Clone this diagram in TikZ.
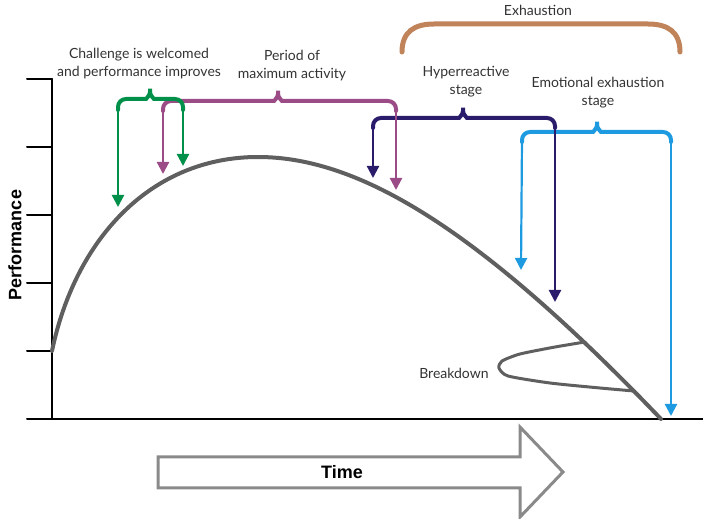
\documentclass[tikz,border=0pt]{standalone}
\usepackage{fontspec}
\setmainfont{Lato}
\newfontfamily\headfont{Liberation Sans}
\usepackage{tikz}
\usetikzlibrary{arrows.meta}
\definecolor{stgreen}{HTML}{00904A}
\definecolor{stpurple}{HTML}{9B4C86}
\definecolor{stnavy}{HTML}{2B1B6B}
\definecolor{stblue}{HTML}{1E9BE0}
\definecolor{stbrown}{HTML}{C0835A}
\definecolor{curvegray}{HTML}{5F5F5F}
\definecolor{arrowgray}{HTML}{8A8A8A}
\definecolor{textgray}{HTML}{333333}

\begin{document}
\begin{tikzpicture}[x=0.5pt, y=-0.5pt, >={Triangle[width=6pt,length=6pt]},
        line cap=round]
      \tikzstyle{word} = [font=\fontsize{7}{9}\selectfont, text=textgray, align=center, inner sep=0pt]
      \tikzstyle{axis} = [font=\headfont\bfseries\fontsize{9}{10}\selectfont, text=black, inner sep=0pt]
      \tikzstyle{leg} = [line width=1.1pt, ->]
      \tikzstyle{brace} = [line width=2pt, rounded corners=4pt]
      \tikzstyle{curve} = [curvegray, line width=2pt, line join=round]
      \useasboundingbox (0,0) rectangle (703,519);

      % axes
      \draw[line width=1pt] (52,79) -- (52,419);
      \draw[line width=1pt] (27,419) -- (703,419);
      \foreach \y in {79,147,215,283,351}
        \draw[line width=1pt] (27,\y) -- (52,\y);
      \node (perf) [axis, rotate=90] at (15,245) {Performance};

      % performance curve and breakdown loop
      \draw[curve] (52,351) .. controls (75,240) and (150,157) .. (258,157)
        .. controls (360,157) and (480,230) .. (661,419);
      \draw[curve, line width=1.5pt] plot[smooth, tension=0.4] coordinates {(585,342) (555,347)
        (520,354) (502,361) (499,368) (508,376) (550,383) (600,388) (634,391)};
      \node (breakdown) [word, anchor=east] at (489,373) {Breakdown};

      % time arrow
      \draw[arrowgray, line width=1.5pt, fill=white, line join=miter]
        (158,457) -- (520,457) -- (520,427) -- (563,472) -- (520,517) -- (520,488) -- (158,488) -- cycle;
      \node (time) [axis] at (342,472) {Time};

      % emotional exhaustion stage
      \coordinate (blueL) at (521,270);
      \coordinate (blueR) at (671,416);
      \draw[stblue, brace] (522,142) -- (522,132) -- (585,132) .. controls (593,132) and (597,128) .. (597,117)
        .. controls (597,128) and (601,132) .. (609,132) -- (671,132) -- (671,142);
      \draw[stblue, leg] (522,140) -- (blueL);
      \draw[stblue, leg] (671,140) -- (blueR);
      \node (emotional) [word] at (598,93) {Emotional exhaustion\\stage};

      % hyperreactive stage
      \coordinate (navyL) at (373,178);
      \coordinate (navyR) at (555,302);
      \draw[stnavy, brace] (373,128) -- (373,118) -- (451,118) .. controls (459,118) and (463,114) .. (463,103)
        .. controls (463,114) and (467,118) .. (475,118) -- (555,118) -- (555,128);
      \draw[stnavy, leg] (373,126) -- (navyL);
      \draw[stnavy, leg] (555,126) -- (navyR);
      \node (hyper) [word] at (466,82) {Hyperreactive\\stage};

      % period of maximum activity
      \coordinate (purpleL) at (163,174);
      \coordinate (purpleR) at (396,190);
      \draw[stpurple, brace] (163,111) -- (163,101) -- (266,101) .. controls (274,101) and (278,97) .. (278,86)
        .. controls (278,97) and (282,101) .. (290,101) -- (396,101) -- (396,111);
      \draw[stpurple, leg] (163,109) -- (purpleL);
      \draw[stpurple, leg] (396,109) -- (purpleR);
      \node (maxact) [word] at (292,66) {Period of\\maximum activity};

      % challenge is welcomed
      \coordinate (greenL) at (118,207);
      \coordinate (greenR) at (183,166);
      \draw[stgreen, brace] (118,110) -- (118,99) -- (138,99) .. controls (146,99) and (150,95) .. (150,84)
        .. controls (150,95) and (154,99) .. (162,99) -- (183,99) -- (183,110);
      \draw[stgreen, leg] (118,108) -- (greenL);
      \draw[stgreen, leg] (183,108) -- (greenR);
      \node (welcomed) [word] at (139,64) {Challenge is welcomed\\and performance improves};

      % exhaustion
      \draw[stbrown, line width=2.5pt] (402,52) .. controls (402,32) and (414,24) .. (434,24) -- (648,24)
        .. controls (668,24) and (680,32) .. (680,52);
      \node (exhaustion) [word] at (538,10) {Exhaustion};
\end{tikzpicture}
\end{document}
